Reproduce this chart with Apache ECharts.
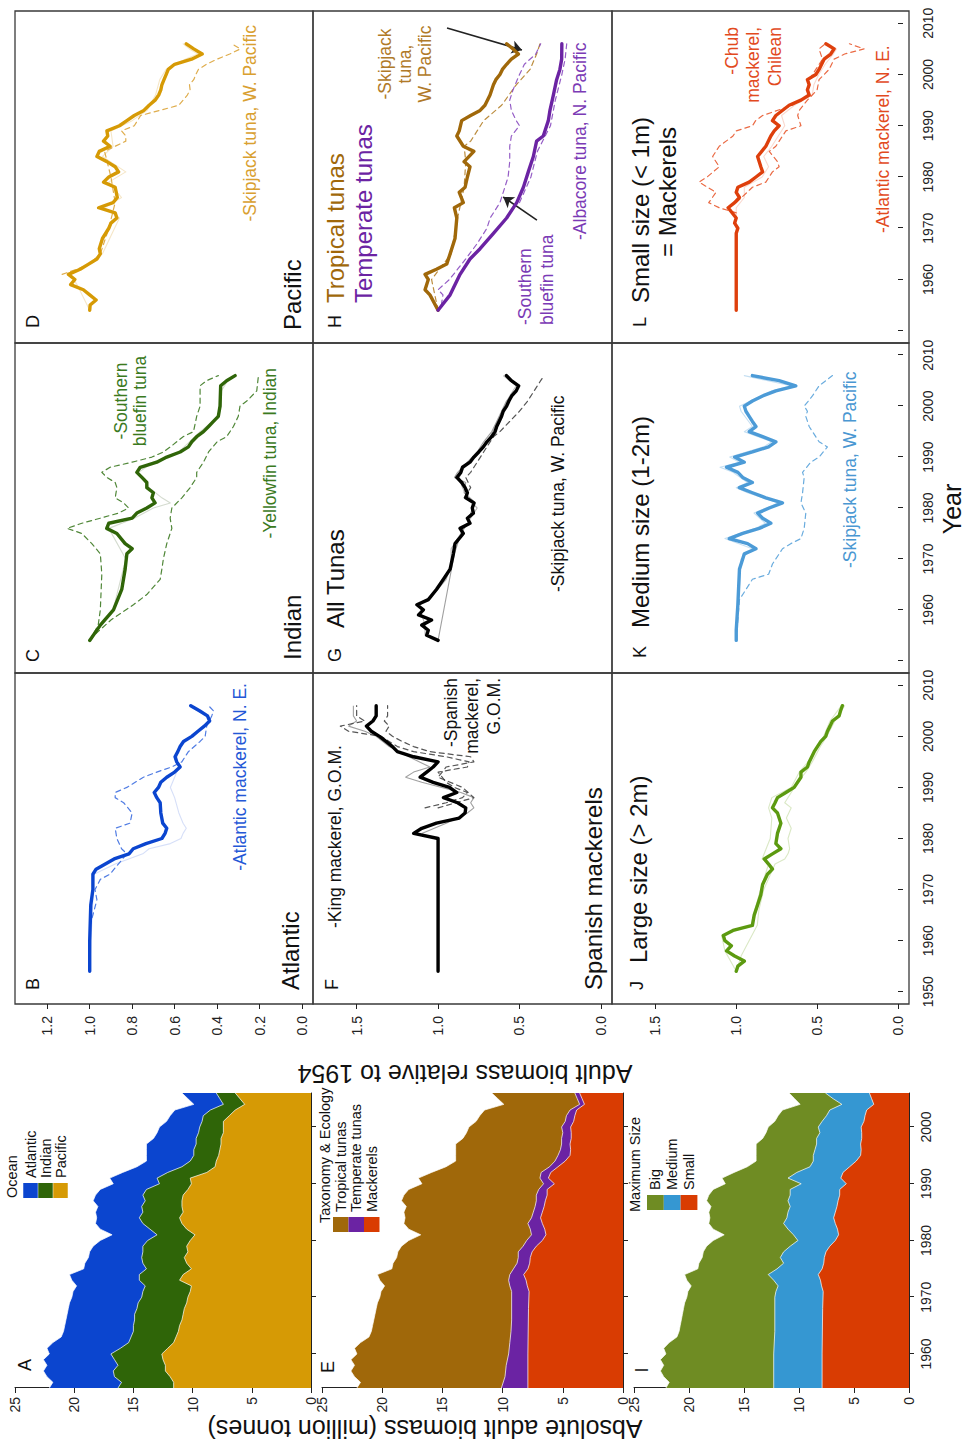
<!DOCTYPE html>
<html><head><meta charset="utf-8"><title>Adult biomass of tunas and mackerels</title>
<script src="https://cdn.jsdelivr.net/npm/echarts@6.0.0/dist/echarts.min.js"></script>
<style>
html,body{margin:0;padding:0;background:#fff;width:968px;height:1444px;overflow:hidden;}
#chart{position:absolute;left:0;top:0;width:1444px;height:968px;transform-origin:0 0;transform:translate(0px,1444px) rotate(-90deg);background:#fff;}
</style></head><body><div id="chart"></div>
<script>
// ---------------- DATA ----------------
const AREA_YEARS = [1954,1955,1956,1957,1958,1959,1960,1961,1962,1963,1964,1965,1966,1967,1968,1969,1970,1971,1972,1973,1974,1975,1976,1977,1978,1979,1980,1981,1982,1983,1984,1985,1986,1987,1988,1989,1990,1991,1992,1993,1994,1995,1996,1997,1998,1999,2000,2001,2002,2003,2004,2005,2006];
// cumulative boundaries of the stacked areas (million tonnes)
const TOTAL = [22.1,21.8,22.3,22.6,22.3,22.6,22.1,22.3,21.8,21.1, 20.9,20.8,20.7,20.6,20.5,20.4,20.2,20.1,19.8,20.2, 20.4,19.2,19.1,18.8,18.7,18.4,17.8,16.8,17.8,18.2, 18.1,18.2,18.0,18.4,18.2,17.8,16.7,17.0,15.9,14.7, 13.9,13.9,13.9,13.9,13.3,13.0,12.8,12.2,11.9,11.5, 9.9,10.4,10.9];
const INDIAN_TOP = [16.3,16.0,16.6,16.7,16.3,16.6,16.9,16.1,15.4,15.2, 15.0,15.0,14.9,14.9,14.7,14.6,14.3,14.2,14.0,14.5, 14.5,13.9,14.2,14.3,14.2,14.2,13.8,13.0,13.6,14.2, 14.5,14.2,14.3,14.0,14.2,13.9,12.8,13.0,12.1,10.9, 10.2,9.9,9.9,9.7,9.7,9.5,9.4,9.2,9.1,8.5, 7.4,7.7,8.0];
const PACIFIC_TOP = [11.6,11.6,11.9,12.3,12.3,12.5,12.6,12.1,11.6,11.4, 11.2,11.1,10.9,10.8,10.7,10.5,10.4,10.2,10.1,11.1, 10.8,10.1,10.5,10.7,10.4,10.5,10.2,9.8,10.5,10.9, 11.1,10.8,10.9,10.9,10.8,10.4,10.1,10.2,8.8,8.1, 8.0,7.8,7.7,7.6,7.6,7.4,7.4,7.4,6.9,6.4, 5.6,6.0,6.4];
const TEMPERATE_TOP = [[1954,10.1],[1956,9.8],[1958,9.7],[1960,9.5],[1962,9.4],[1964,9.3],[1966,9.25],[1971,9.25],[1972,9.4],[1973,9.5],[1974,9.4],[1975,9.1],[1976,8.8],[1977,8.7],[1978,8.7],[1979,8.3],[1980,8.0],[1981,7.6],[1982,7.7],[1983,7.9],[1984,7.6],[1985,7.45],[1986,7.3],[1987,7.2],[1988,7.2],[1989,7.0],[1990,6.6],[1991,6.9],[1992,6.8],[1993,6.1],[1994,5.65],[1995,5.4],[1996,5.2],[1997,5.1],[1998,5.1],[1999,5.0],[2000,5.1],[2001,4.8],[2002,4.7],[2003,4.4],[2004,3.6],[2005,3.8],[2006,4.0]];
const MACKEREL_TOP = [[1954,7.9],[1960,7.9],[1968,7.85],[1971,7.8],[1972,7.95],[1973,8.05],[1974,8.25],[1975,7.9],[1976,7.75],[1977,7.7],[1978,7.55],[1979,7.2],[1980,6.7],[1981,6.4],[1982,6.5],[1983,6.7],[1984,6.85],[1985,6.7],[1986,6.55],[1987,6.45],[1988,6.3],[1989,6.3],[1990,5.7],[1991,6.2],[1992,6.0],[1993,5.4],[1994,4.8],[1995,4.4],[1996,4.35],[1997,4.4],[1998,4.3],[1999,4.3],[2000,4.35],[2001,4.1],[2002,4.0],[2003,3.85],[2004,3.2],[2005,3.4],[2006,3.6]];
const MEDIUM_TOP = [[1954,12.3],[1960,12.3],[1964,12.2],[1970,12.2],[1971,12.1],[1972,11.9],[1973,12.3],[1974,12.8],[1975,12.0],[1976,11.4],[1977,11.7],[1978,11.4],[1979,10.8],[1980,10.1],[1981,10.5],[1982,11.0],[1983,11.4],[1984,11.1],[1985,11.0],[1986,10.8],[1987,11.0],[1988,10.8],[1989,10.8],[1990,9.8],[1991,11.0],[1992,10.2],[1993,9.0],[1994,8.7],[1995,8.7],[1996,8.55],[1997,8.4],[1998,8.4],[1999,8.1],[2000,8.25],[2001,7.9],[2002,7.5],[2003,7.2],[2004,6.1],[2005,6.9],[2006,7.6]];

// relative biomass (1954 = 1)
const B_main = [[1954,1.00],[1960,1.00],[1967,0.995],[1970,0.985],[1973,0.985],[1974,0.97],[1976,0.885],[1977,0.815],[1978,0.795],[1979,0.735],[1980,0.66],[1981,0.645],[1982,0.637],[1983,0.656],[1985,0.665],[1987,0.668],[1988,0.684],[1989,0.696],[1990,0.676],[1991,0.665],[1992,0.637],[1993,0.60],[1994,0.574],[1995,0.59],[1996,0.598],[1997,0.585],[1998,0.574],[1999,0.558],[2000,0.519],[2001,0.49],[2002,0.46],[2003,0.435],[2004,0.445],[2005,0.483],[2006,0.524]];
const B_faint = [[1954,1.0],[1973,0.98],[1975,0.88],[1977,0.75],[1978,0.72],[1979,0.62],[1980,0.57],[1981,0.56],[1982,0.545],[1983,0.56],[1985,0.58],[1988,0.60],[1990,0.62],[1992,0.60],[1993,0.59],[1994,0.575],[1995,0.59],[1997,0.585],[1999,0.56],[2000,0.52],[2002,0.46],[2003,0.44],[2004,0.45],[2005,0.49],[2006,0.53]];
const B_dash = [[1954,1.0],[1963,0.998],[1968,0.966],[1970,0.975],[1972,0.95],[1973,0.905],[1977,0.825],[1978,0.85],[1980,0.872],[1982,0.88],[1983,0.81],[1985,0.80],[1987,0.84],[1988,0.88],[1989,0.88],[1990,0.825],[1992,0.747],[1993,0.684],[1994,0.613],[1995,0.566],[1997,0.535],[1999,0.48],[2000,0.456],[2002,0.449],[2004,0.425],[2005,0.417],[2006,0.44]];

const C_main = [[1954,1.0],[1957,0.95],[1960,0.888],[1964,0.849],[1968,0.833],[1971,0.825],[1972,0.80],[1973,0.833],[1975,0.872],[1976,0.92],[1977,0.91],[1978,0.80],[1979,0.778],[1980,0.731],[1981,0.692],[1982,0.707],[1983,0.70],[1984,0.731],[1985,0.731],[1986,0.754],[1987,0.778],[1988,0.762],[1989,0.684],[1990,0.637],[1991,0.574],[1992,0.535],[1993,0.519],[1994,0.496],[1995,0.464],[1996,0.44],[1997,0.417],[1998,0.394],[2000,0.386],[2004,0.383],[2005,0.355],[2006,0.315]];
const C_faint = [[1954,1.0],[1960,0.89],[1970,0.83],[1976,0.91],[1978,0.79],[1980,0.70],[1981,0.62],[1982,0.66],[1984,0.72],[1987,0.77],[1989,0.70],[1991,0.58],[1993,0.53],[1995,0.48],[1997,0.42],[1998,0.40],[2000,0.38],[2003,0.38],[2005,0.35]];
const C_dashSBT = [[1954,1.0],[1957,0.96],[1960,0.95],[1967,0.943],[1971,0.95],[1973,0.99],[1975,1.037],[1976,1.107],[1977,1.037],[1978,0.95],[1979,0.864],[1980,0.817],[1981,0.84],[1982,0.88],[1984,0.872],[1985,0.88],[1986,0.919],[1987,0.943],[1988,0.904],[1989,0.80],[1990,0.707],[1991,0.653],[1992,0.62],[1993,0.59],[1994,0.56],[1995,0.511],[1998,0.496],[2000,0.48],[2004,0.48],[2005,0.449],[2006,0.394]];
const C_dashYFT = [[1954,1.0],[1955,0.98],[1958,0.90],[1961,0.794],[1963,0.731],[1966,0.668],[1968,0.66],[1970,0.653],[1973,0.637],[1976,0.613],[1978,0.621],[1980,0.613],[1982,0.566],[1984,0.527],[1986,0.496],[1987,0.496],[1989,0.464],[1991,0.44],[1993,0.40],[1994,0.355],[1996,0.323],[1998,0.30],[2000,0.292],[2001,0.26],[2003,0.213],[2006,0.205]];

const D_main = [[1954,1.0],[1955,0.998],[1956,0.97],[1957,1.0],[1958,1.03],[1959,1.09],[1960,1.07],[1961,1.10],[1962,1.045],[1963,1.005],[1964,0.966],[1965,0.95],[1966,0.955],[1968,0.94],[1970,0.91],[1971,0.90],[1972,0.872],[1973,0.88],[1974,0.958],[1975,0.89],[1976,0.87],[1977,0.875],[1978,0.88],[1979,0.935],[1980,0.91],[1981,0.864],[1982,0.88],[1983,0.919],[1984,0.966],[1985,0.955],[1986,0.904],[1987,0.935],[1988,0.915],[1989,0.919],[1990,0.86],[1991,0.825],[1992,0.79],[1993,0.745],[1994,0.72],[1995,0.692],[1996,0.675],[1997,0.665],[1998,0.66],[1999,0.65],[2000,0.64],[2001,0.63],[2002,0.60],[2003,0.52],[2004,0.47],[2005,0.51],[2006,0.545]];
const D_faint = [[1954,1.0],[1959,1.06],[1961,1.09],[1965,0.94],[1972,0.86],[1974,0.93],[1976,0.85],[1979,0.91],[1981,0.83],[1984,0.94],[1986,0.89],[1989,0.90],[1991,0.80],[1993,0.73],[1996,0.69],[1999,0.67],[2001,0.64],[2003,0.55],[2004,0.49],[2005,0.53],[2006,0.56]];
const D_dash = [[1961,1.13],[1962,1.06],[1963,1.0],[1965,0.95],[1970,0.91],[1975,0.88],[1980,0.90],[1985,0.93],[1987,0.83],[1988,0.83],[1989,0.85],[1990,0.79],[1992,0.76],[1993,0.67],[1994,0.58],[1995,0.56],[1996,0.54],[1997,0.527],[1998,0.53],[1999,0.51],[2000,0.50],[2001,0.488],[2002,0.45],[2003,0.40],[2004,0.34],[2005,0.29],[2006,0.33]];

const F_main = [[1954,1.0],[1980,1.0],[1981,1.15],[1982,1.10],[1983,1.01],[1984,0.87],[1985,0.834],[1986,0.83],[1987,0.88],[1988,0.967],[1989,0.885],[1990,0.93],[1991,1.03],[1992,1.11],[1993,1.07],[1994,1.03],[1995,1.0],[1996,1.15],[1997,1.25],[1998,1.28],[1999,1.32],[2000,1.36],[2001,1.41],[2002,1.44],[2003,1.40],[2004,1.38],[2006,1.38]];
const F_faint = [[1981,1.10],[1983,0.95],[1985,0.82],[1986,0.78],[1987,0.80],[1988,0.78],[1989,0.86],[1991,1.10],[1992,1.20],[1993,1.15],[1994,1.05],[1996,1.18],[1998,1.30],[2000,1.38],[2001,1.45],[2002,1.55],[2003,1.50],[2004,1.52],[2006,1.52]];
const F_dashKing = [[1986,1.08],[1987,0.95],[1988,0.85],[1989,0.82],[1990,0.90],[1991,0.95],[1993,1.0],[1994,0.82],[1995,0.81],[1996,0.95],[1997,1.15],[1998,1.25],[1999,1.30],[2000,1.35],[2001,1.55],[2002,1.60],[2003,1.45],[2004,1.50],[2006,1.50]];
const F_dashSpanish = [[1986,1.0],[1988,0.78],[1990,0.85],[1992,1.0],[1994,0.95],[1995,0.78],[1996,0.80],[1997,1.05],[1998,1.15],[1999,1.22],[2000,1.28],[2001,1.32],[2002,1.30],[2003,1.33],[2004,1.31],[2006,1.31]];

const G_main = [[1954,1.0],[1955,1.07],[1956,1.06],[1957,1.10],[1958,1.04],[1959,1.12],[1960,1.09],[1961,1.13],[1962,1.06],[1964,1.01],[1966,0.967],[1968,0.926],[1971,0.906],[1973,0.896],[1975,0.845],[1976,0.865],[1977,0.804],[1978,0.82],[1979,0.783],[1980,0.79],[1981,0.78],[1982,0.83],[1983,0.82],[1984,0.834],[1985,0.855],[1986,0.885],[1987,0.86],[1988,0.85],[1989,0.804],[1990,0.78],[1991,0.75],[1992,0.722],[1993,0.70],[1994,0.671],[1995,0.65],[1996,0.64],[1997,0.625],[1998,0.61],[1999,0.60],[2000,0.579],[2001,0.565],[2002,0.548],[2003,0.52],[2004,0.505],[2005,0.55],[2006,0.58]];
const G_faint1 = [[1954,1.0],[1971,0.90],[1973,0.88],[1975,0.86],[1977,0.82],[1979,0.80],[1981,0.77],[1983,0.84],[1985,0.83],[1986,0.90],[1987,0.88],[1989,0.82],[1991,0.76],[1993,0.72],[1995,0.67],[1997,0.64],[1999,0.61],[2001,0.58],[2003,0.53],[2004,0.50],[2005,0.56],[2006,0.59]];
const G_faint2 = [[1954,1.0],[1955,1.08],[1957,1.08],[1959,1.10],[1961,1.11],[1963,1.03],[1966,0.95],[1969,0.92],[1972,0.92],[1974,0.88],[1976,0.84],[1978,0.80],[1980,0.76],[1982,0.82],[1984,0.85],[1986,0.87],[1988,0.84],[1990,0.77],[1992,0.73],[1994,0.68],[1996,0.65],[1998,0.62],[2000,0.59],[2002,0.56],[2004,0.52],[2006,0.60]];
const G_dash = [[1982,0.84],[1984,0.80],[1986,0.83],[1987,0.80],[1988,0.78],[1990,0.74],[1992,0.70],[1994,0.66],[1995,0.62],[1997,0.56],[1999,0.50],[2001,0.45],[2003,0.41],[2005,0.37],[2006,0.35]];

const H_trop = [[1954,1.0],[1957,1.05],[1958,1.08],[1960,1.06],[1961,1.08],[1962,1.01],[1963,0.947],[1965,0.926],[1968,0.896],[1972,0.885],[1974,0.90],[1975,0.845],[1977,0.87],[1978,0.834],[1980,0.82],[1982,0.804],[1983,0.84],[1985,0.78],[1986,0.845],[1988,0.885],[1989,0.87],[1991,0.855],[1992,0.80],[1993,0.742],[1994,0.712],[1996,0.681],[1998,0.66],[1999,0.645],[2000,0.62],[2001,0.605],[2002,0.579],[2003,0.55],[2004,0.507],[2005,0.54],[2006,0.579]];
const H_tropDash = [[1954,1.0],[1960,1.04],[1965,0.92],[1972,0.88],[1978,0.84],[1983,0.83],[1986,0.84],[1987,0.80],[1989,0.76],[1991,0.72],[1994,0.61],[1998,0.52],[2001,0.435],[2004,0.395],[2006,0.374]];
const H_temp = [[1954,1.0],[1957,0.926],[1961,0.865],[1964,0.804],[1966,0.742],[1969,0.66],[1972,0.579],[1975,0.517],[1978,0.476],[1981,0.446],[1984,0.415],[1987,0.395],[1988,0.354],[1991,0.323],[1993,0.313],[1996,0.292],[1999,0.272],[2001,0.252],[2003,0.241],[2006,0.24]];
const H_tempDashSBT = [[1955,0.98],[1957,0.97],[1958,1.0],[1960,0.93],[1962,0.88],[1964,0.83],[1967,0.76],[1970,0.70],[1972,0.68],[1975,0.62],[1977,0.60],[1980,0.57],[1983,0.56],[1986,0.56],[1988,0.55],[1990,0.50],[1991,0.52],[1993,0.55],[1995,0.56],[1997,0.54],[2000,0.50],[2002,0.47],[2004,0.40],[2006,0.37]];
const H_tempDashALB = [[1975,0.50],[1980,0.43],[1985,0.39],[1990,0.31],[1995,0.28],[2000,0.24],[2003,0.22],[2006,0.21]];
const H_ARROWS = [[[2009.1,0.945],[2004.8,0.485]],[[1971.6,0.393],[1976.1,0.60]]];

const J_main = [[1954,1.0],[1955,0.99],[1956,0.95],[1957,1.01],[1958,1.06],[1959,1.03],[1960,1.07],[1961,1.08],[1962,1.02],[1963,0.90],[1965,0.889],[1967,0.868],[1969,0.848],[1971,0.837],[1973,0.807],[1974,0.776],[1975,0.80],[1976,0.827],[1977,0.776],[1978,0.724],[1979,0.755],[1981,0.745],[1983,0.724],[1985,0.745],[1986,0.776],[1987,0.76],[1988,0.745],[1989,0.693],[1990,0.642],[1992,0.60],[1993,0.60],[1994,0.56],[1995,0.549],[1997,0.518],[1999,0.477],[2000,0.447],[2001,0.436],[2002,0.42],[2003,0.405],[2004,0.364],[2005,0.355],[2006,0.344]];
const J_faint1 = [[1954,1.0],[1957,0.97],[1963,0.87],[1966,0.86],[1970,0.83],[1975,0.76],[1976,0.70],[1977,0.68],[1978,0.67],[1980,0.68],[1982,0.66],[1984,0.69],[1986,0.66],[1987,0.70],[1989,0.66],[1991,0.62],[1993,0.57],[1995,0.53],[1998,0.48],[2000,0.44],[2003,0.39],[2006,0.33]];
const J_faint2 = [[1954,1.0],[1958,1.07],[1961,1.09],[1963,0.91],[1970,0.85],[1975,0.80],[1976,0.84],[1980,0.79],[1984,0.78],[1986,0.80],[1988,0.78],[1990,0.66],[1993,0.61],[1996,0.53],[2000,0.46],[2003,0.42],[2006,0.35]];

const K_main = [[1954,1.0],[1956,1.0],[1961,0.99],[1968,0.98],[1970,0.96],[1971,0.95],[1972,0.878],[1973,0.93],[1974,1.043],[1975,0.96],[1976,0.858],[1977,0.786],[1978,0.837],[1979,0.868],[1980,0.796],[1981,0.714],[1982,0.817],[1983,0.90],[1984,0.981],[1985,0.90],[1986,0.96],[1987,0.99],[1988,1.06],[1989,0.95],[1990,1.01],[1991,0.90],[1992,0.80],[1993,0.755],[1994,0.837],[1995,0.92],[1996,0.878],[1997,0.90],[1998,0.92],[1999,0.94],[2000,0.95],[2001,0.90],[2002,0.837],[2003,0.755],[2004,0.632],[2005,0.735],[2006,0.90]];
const K_faint = [[1954,1.0],[1970,0.97],[1972,0.90],[1974,1.07],[1976,0.88],[1977,0.82],[1979,0.89],[1981,0.74],[1983,0.93],[1984,1.0],[1985,0.93],[1987,1.02],[1988,1.10],[1989,0.98],[1990,1.04],[1992,0.83],[1993,0.78],[1995,0.95],[1996,0.90],[1999,0.97],[2000,0.98],[2003,0.78],[2004,0.66],[2006,0.95]];
const K_dash = [[1954,1.0],[1962,0.98],[1966,0.90],[1967,0.80],[1969,0.776],[1972,0.714],[1973,0.663],[1974,0.60],[1976,0.58],[1979,0.57],[1981,0.60],[1983,0.59],[1986,0.58],[1987,0.59],[1989,0.539],[1990,0.488],[1992,0.436],[1993,0.488],[1996,0.549],[1998,0.57],[1999,0.56],[2000,0.58],[2002,0.529],[2004,0.488],[2006,0.405]];

const L_main = [[1954,1.0],[1969,1.0],[1970,0.99],[1971,1.01],[1972,1.0],[1974,1.05],[1975,1.01],[1976,0.98],[1977,1.0],[1978,0.99],[1979,0.92],[1980,0.878],[1981,0.837],[1982,0.848],[1984,0.868],[1986,0.817],[1988,0.786],[1989,0.765],[1990,0.735],[1991,0.776],[1992,0.755],[1994,0.673],[1995,0.60],[1996,0.549],[1997,0.56],[1998,0.549],[1999,0.56],[2000,0.508],[2001,0.488],[2003,0.457],[2004,0.416],[2005,0.395],[2006,0.446]];
const L_faint = [[1954,1.0],[1972,1.0],[1974,1.0],[1976,0.95],[1978,0.95],[1980,0.84],[1982,0.80],[1984,0.83],[1986,0.78],[1988,0.74],[1990,0.70],[1992,0.72],[1994,0.64],[1996,0.53],[1998,0.52],[2000,0.49],[2002,0.45],[2004,0.40],[2005,0.38],[2006,0.43]];
const L_dashChub = [[1973,1.0],[1974,1.105],[1975,1.17],[1977,1.125],[1979,1.23],[1980,1.18],[1982,1.105],[1984,1.146],[1986,1.105],[1988,1.02],[1989,1.0],[1990,0.90],[1991,0.88],[1992,0.837],[1994,0.652],[1996,0.549],[1997,0.56],[1999,0.549],[2001,0.508],[2003,0.467],[2005,0.488],[2006,0.45]];
const L_dashAtl = [[1975,1.0],[1978,0.90],[1979,0.817],[1981,0.776],[1982,0.735],[1983,0.745],[1985,0.796],[1986,0.755],[1988,0.714],[1989,0.693],[1990,0.60],[1992,0.62],[1993,0.611],[1995,0.56],[1997,0.50],[1999,0.488],[2001,0.426],[2003,0.395],[2004,0.33],[2005,0.21],[2006,0.30]];

// tick values / labels
const AREA_YEAR_TICKS = [1960,1970,1980,1990,2000];
const AREA_VALUE_TICKS = [0,5,10,15,20,25];
const YEAR_TICKS = [1950,1960,1970,1980,1990,2000,2010];
const ROW1_TICKS = [0,0.2,0.4,0.6,0.8,1.0,1.2];
const ROW23_TICKS = [0,0.5,1.0,1.5];

// ---------------- STYLE ----------------
const FONT = 'Liberation Sans, Arial, Helvetica, sans-serif';
const COL = {atl:'#0b45cf', ind:'#2f6508', pac:'#d69a05', trop:'#a0680a', temp:'#6b23a3', mack:'#d93c02', big:'#6f8c23', med:'#3597d2', small:'#d93c02'};
const zip = (xs, ys) => xs.map((x, i) => [x, ys[i]]);
const yearFmt = v => String(Math.round(v));

const grids = [
  {left:56, top:15, width:295, height:296},
  {left:56, top:322, width:295, height:301},
  {left:56, top:634, width:295, height:275}
];
const colX = [[440,331],[771,330],[1101,332]];
const rowY = [[15,298],[313,299],[612,297]];
for (let r = 0; r < 3; r++) for (let c = 0; c < 3; c++) {
  grids.push({left:colX[c][0], top:rowY[r][0], width:colX[c][1], height:rowY[r][1], show:true, borderColor:'#3a3a3a', borderWidth:1.3, backgroundColor:'rgba(0,0,0,0)'});
}
grids.forEach(g => { g.outerBoundsMode = 'none'; g.containLabel = false; });

const axText = {fontSize:14, color:'#222', fontFamily:FONT};
const xAxes = [], yAxes = [];
for (let i = 0; i < 3; i++) {
  xAxes.push({gridIndex:i, type:'value', min:1954, max:2006,
    axisLine:{show:true, onZero:false, lineStyle:{color:'#222', width:1}},
    axisTick:{show:true, customValues:AREA_YEAR_TICKS, length:5, lineStyle:{color:'#222'}},
    axisLabel:Object.assign({show:i===2, customValues:AREA_YEAR_TICKS, margin:10, formatter:yearFmt}, axText),
    splitLine:{show:false}});
  yAxes.push({gridIndex:i, type:'value', min:0, max:25, interval:5,
    axisLine:{show:true, onZero:false, lineStyle:{color:'#222', width:1}},
    axisTick:{show:true, length:5, lineStyle:{color:'#222'}},
    axisLabel:Object.assign({margin:9, formatter:yearFmt}, axText),
    splitLine:{show:false}});
}
for (let r = 0; r < 3; r++) for (let c = 0; c < 3; c++) {
  const g = 3 + r * 3 + c;
  xAxes.push({gridIndex:g, type:'value', min:1947.6, max:2012.4,
    axisLine:{show:false},
    axisTick:{show:r===2, customValues:YEAR_TICKS, length:5, lineStyle:{color:'#222'}},
    axisLabel:Object.assign({show:r===2, customValues:c===0 ? YEAR_TICKS : YEAR_TICKS.slice(1), margin:12, formatter:yearFmt}, axText),
    splitLine:{show:false}});
  const t = r === 0 ? ROW1_TICKS : ROW23_TICKS;
  yAxes.push({gridIndex:g, type:'value', min:r===0 ? -0.052 : -0.068, max:r===0 ? 1.352 : 1.768,
    axisLine:{show:false},
    axisTick:{show:c===0, customValues:t, length:5, lineStyle:{color:'#222'}},
    axisLabel:Object.assign({show:c===0, customValues:t, margin:12, formatter:v => Number(v).toFixed(1)}, axText),
    splitLine:{show:false}});
}

function area(g, name, data, color, z) {
  return {name, type:'line', xAxisIndex:g, yAxisIndex:g, data, symbol:'none', showSymbol:false, z,
    lineStyle:{color:'#ffffff', width:0.8, opacity:0.9}, itemStyle:{color}, areaStyle:{color, opacity:1},
    animation:false, silent:true};
}
const KIND = {main:{width:3.4, opacity:1, type:'solid'}, faint:{width:1.1, opacity:0.32, type:'solid'}, dash:{width:1.2, opacity:0.9, type:[5,4]}};
function line(g, data, color, kind, extra) {
  const st = KIND[kind];
  return Object.assign({type:'line', xAxisIndex:g, yAxisIndex:g, data, symbol:'none', showSymbol:false,
    z:kind === 'main' ? 5 : 3,
    lineStyle:{color, width:st.width, opacity:st.opacity, type:st.type, join:'round', cap:'round'},
    itemStyle:{color}, animation:false, silent:true}, extra || {});
}

const series = [
  area(0, 'Atlantic', zip(AREA_YEARS, TOTAL), COL.atl, 1),
  area(0, 'Indian', zip(AREA_YEARS, INDIAN_TOP), COL.ind, 2),
  area(0, 'Pacific', zip(AREA_YEARS, PACIFIC_TOP), COL.pac, 3),
  area(1, 'Tropical tunas', zip(AREA_YEARS, TOTAL), COL.trop, 1),
  area(1, 'Temperate tunas', TEMPERATE_TOP, COL.temp, 2),
  area(1, 'Mackerels', MACKEREL_TOP, COL.mack, 3),
  area(2, 'Big', zip(AREA_YEARS, TOTAL), COL.big, 1),
  area(2, 'Medium', MEDIUM_TOP, COL.med, 2),
  area(2, 'Small', MACKEREL_TOP, COL.small, 3),

  line(3, B_faint, '#7f9de8', 'faint'), line(3, B_dash, '#3d6ee0', 'dash'), line(3, B_main, '#0b45cf', 'main'),
  line(4, C_faint, '#7a8f6a', 'faint'), line(4, C_dashSBT, '#3d7a22', 'dash'), line(4, C_dashYFT, '#3d7a22', 'dash'), line(4, C_main, '#2f6508', 'main'),
  line(5, D_faint, '#e0b050', 'faint'), line(5, D_dash, '#dba43a', 'dash'), line(5, D_main, '#d69a05', 'main'),
  line(6, F_faint, '#777', 'faint', {lineStyle:{color:'#888', width:1.1, opacity:0.8}}), line(6, F_dashKing, '#444', 'dash'), line(6, F_dashSpanish, '#444', 'dash'), line(6, F_main, '#000', 'main'),
  line(7, G_faint1, '#888', 'faint', {lineStyle:{color:'#888', width:1.1, opacity:0.8}}), line(7, G_faint2, '#999', 'faint', {lineStyle:{color:'#999', width:1.1, opacity:0.7}}), line(7, G_dash, '#444', 'dash'), line(7, G_main, '#000', 'main'),
  line(8, H_tropDash, '#b5812a', 'dash'), line(8, H_tempDashSBT, '#8a4cc0', 'dash'), line(8, H_tempDashALB, '#8a4cc0', 'dash'),
  line(8, H_trop, '#a0680a', 'main'),
  line(8, H_temp, '#6b23a3', 'main', {markLine:{silent:true, animation:false, symbol:['none','arrow'], symbolSize:10,
     lineStyle:{color:'#222', width:1.6, type:'solid'}, label:{show:false},
     data:H_ARROWS.map(a => [{coord:a[0]}, {coord:a[1]}])}}),
  line(9, J_faint1, '#8cb84a', 'faint'), line(9, J_faint2, '#8cb84a', 'faint'), line(9, J_main, '#5c9a10', 'main'),
  line(10, K_faint, '#4c9bd7', 'faint'), line(10, K_dash, '#5aa3da', 'dash'), line(10, K_main, '#4c9bd7', 'main'),
  line(11, L_faint, '#f08a6a', 'faint'), line(11, L_dashChub, '#e85a30', 'dash'), line(11, L_dashAtl, '#e85a30', 'dash'), line(11, L_main, '#de3f0c', 'main')
];

function legend(names, left, top, h) {
  return {data:names, orient:'vertical', left, top, padding:0, itemWidth:15, itemHeight:h, itemGap:0, icon:'rect',
    selectedMode:false, itemStyle:{borderWidth:0}, textStyle:{fontSize:14.5, lineHeight:h, color:'#111', fontFamily:FONT}};
}

// text annotations: [text, x, y, align, fontSize, color, lineHeight]
const TEXTS = [
  ['A', 79, 25, 'center', 18, '#111'], ['E', 77, 328, 'center', 18, '#111'], ['I', 74, 642, 'center', 18, '#111'],
  ['Ocean', 246, 12, 'left', 14.5, '#111'], ['Taxonomy & Ecology', 221, 325, 'left', 14.5, '#111'], ['Maximum Size', 232, 635, 'left', 14.5, '#111'],
  ['B', 454, 33, 'left', 18, '#111'], ['C', 782, 33, 'left', 18, '#111'], ['D', 1116, 33, 'left', 18, '#111'],
  ['F', 454, 332, 'left', 18, '#111'], ['G', 782, 335, 'left', 18, '#111'], ['H', 1116, 335, 'left', 18, '#111'],
  ['J', 454, 637, 'left', 18, '#111'], ['K', 786, 640, 'left', 18, '#111'], ['L', 1117, 640, 'left', 18, '#111'],
  ['Atlantic', 454, 290, 'left', 24, '#111'], ['Indian', 784, 292, 'left', 24, '#111'], ['Pacific', 1114, 292, 'left', 24, '#111'],
  ['Spanish mackerels', 454, 593, 'left', 24, '#111'], ['All Tunas', 816, 335, 'left', 24, '#111'],
  ['Tropical tunas', 1141, 335, 'left', 24, '#a0680a'], ['Temperate tunas', 1141, 363, 'left', 24, '#6b23a3'],
  ['Large size (> 2m)', 481, 638, 'left', 24, '#111'], ['Medium size (1-2m)', 816, 640, 'left', 24, '#111'],
  ['Small size (< 1m)', 1141, 640, 'left', 24, '#111'], ['= Mackerels', 1187, 667, 'left', 24, '#111'],
  ['-Atlantic mackerel, N. E.', 761, 240, 'right', 17.5, '#2457d6'],
  ['-Southern\nbluefin tuna', 1043, 130, 'center', 17.5, '#3b7a1e', 19],
  ['-Yellowfin tuna, Indian', 1076, 270, 'right', 17.5, '#3b7a1e'],
  ['-Skipjack tuna, W. Pacific', 1419, 250, 'right', 17.5, '#d9a030'],
  ['-King mackerel, G.O.M.', 516, 335, 'left', 17.5, '#111'],
  ['-Spanish\nmackerel,\nG.O.M.', 766, 472, 'right', 17.5, '#111', 21.5],
  ['-Skipjack tuna, W. Pacific', 852, 558, 'left', 17.5, '#111'],
  ['-Skipjack\ntuna,\nW. Pacific', 1380, 405, 'center', 17.5, '#b07a28', 20],
  ['-Southern\nbluefin tuna', 1119, 536, 'left', 17.5, '#7b3ab5', 22],
  ['-Albacore tuna, N. Pacific', 1204, 580, 'left', 17.5, '#7b3ab5'],
  ['-Skipjack tuna, W. Pacific', 876, 850, 'left', 17.5, '#4a97d2'],
  ['-Chub\nmackerel,\nChilean', 1417, 753, 'right', 17.5, '#e24a1e', 21.5],
  ['-Atlantic mackerel, N. E.', 1211, 883, 'left', 17.5, '#e24a1e'],
  ['Year', 935, 952, 'center', 25, '#111']
];
const ROT_TEXTS = [
  ['Adult biomass relative to 1954', 370, 465, 25],
  ['Absolute adult biomass (million tonnes)', 15, 425, 25]
];
const graphic = TEXTS.map(t => ({type:'text', x:t[1], y:t[2], silent:true,
  style:{text:t[0], fill:t[5], fontSize:t[4], fontFamily:FONT, lineHeight:t[6] || Math.round(t[4] * 1.15),
    align:t[3], verticalAlign:'middle', textAlign:t[3], textVerticalAlign:'middle'}})).concat(
  ROT_TEXTS.map(t => ({type:'text', x:t[1], y:t[2], rotation:Math.PI / 2, silent:true,
    style:{text:t[0], fill:'#111', fontSize:t[3], fontFamily:FONT, lineHeight:t[3],
      align:'center', verticalAlign:'middle', textAlign:'center', textVerticalAlign:'middle'}})));

const option = {
  animation:false,
  backgroundColor:'#ffffff',
  textStyle:{fontFamily:FONT},
  grid:grids, xAxis:xAxes, yAxis:yAxes, series,
  legend:[
    legend(['Atlantic','Indian','Pacific'], 246, 23, 14.5),
    legend(['Tropical tunas','Temperate tunas','Mackerels'], 212, 333, 15.5),
    legend(['Big','Medium','Small'], 234, 647, 16.8)
  ],
  graphic:{elements:graphic}
};
const chart = echarts.init(document.getElementById('chart'), null, {renderer:'svg', width:1444, height:968});
chart.setOption(option);
</script></body></html>
